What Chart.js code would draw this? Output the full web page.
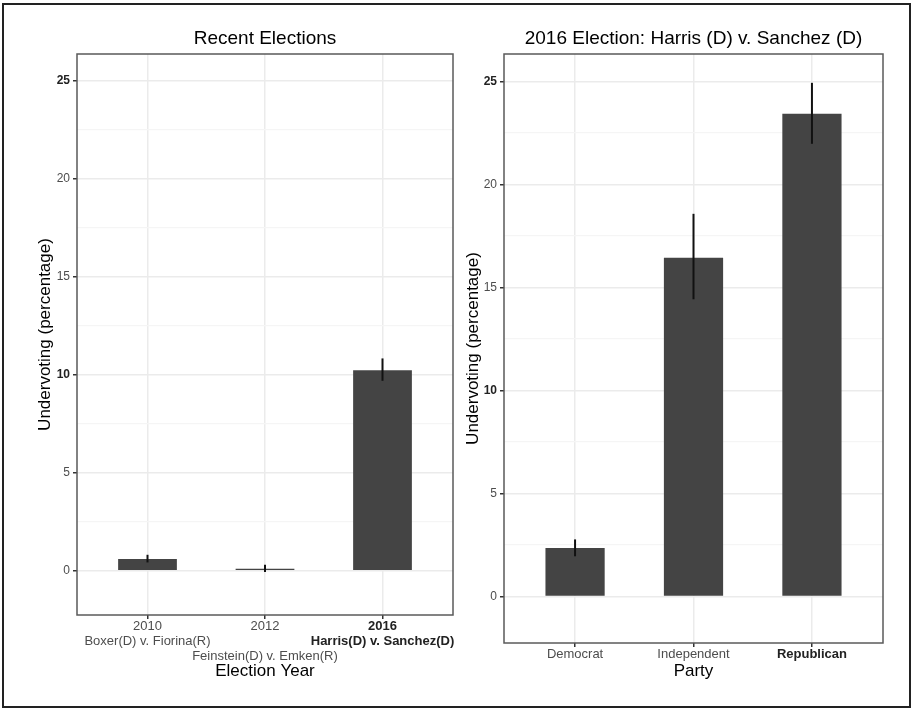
<!DOCTYPE html>
<html>
<head>
<meta charset="utf-8">
<script src="https://cdn.jsdelivr.net/npm/chart.js@4.4.1/dist/chart.umd.min.js"></script>
<style>
  body { margin: 0; background: #fff; }
  #frame { position: absolute; left: 2px; top: 3px; width: 909px; height: 705px; border: 2px solid #222; box-sizing: border-box; }
  canvas { position: absolute; top: 0; }
</style>
</head>
<body>
<div id="frame"></div>
<canvas id="left" width="460" height="708" style="left:0"></canvas>
<canvas id="right" width="457" height="708" style="left:456px"></canvas>
<script>
const leftLabels = [
  ['2010', 'Boxer(D) v. Fiorina(R)'],
  ['2012', '', 'Feinstein(D) v. Emken(R)'],
  ['2016', 'Harris(D) v. Sanchez(D)'],
];
const leftValues = [0.6, 0.1, 10.22];
const leftLow = [0.42, -0.07, 9.68];
const leftHigh = [0.81, 0.3, 10.82];

const rightLabels = ['Democrat', 'Independent', 'Republican'];
const rightValues = [2.35, 16.45, 23.44];
const rightLow = [1.95, 14.43, 21.98];
const rightHigh = [2.77, 18.58, 24.94];

const xPositions = [1, 2, 3];
const yGrid = [0, 2.5, 5, 7.5, 10, 12.5, 15, 17.5, 20, 22.5, 25];
const yBold = [10, 25];
const yMin = -2.26;
const yMax = 26.34;

const FONT = '"Liberation Sans", Arial, sans-serif';

function tickValue(c) {
  return c && c.tick ? c.tick.value : 0;
}

function isMajor(v) {
  return Math.abs(v % 5) < 1e-6;
}

function panelPlugin(low, high) {
  return {
    id: 'panel',
    afterDatasetsDraw(chart) {
      const {ctx, scales: {x, y}} = chart;
      ctx.save();
      ctx.strokeStyle = '#111';
      ctx.lineWidth = 2;
      xPositions.forEach((pos, i) => {
        const px = x.getPixelForValue(pos);
        ctx.beginPath();
        ctx.moveTo(px, y.getPixelForValue(low[i]));
        ctx.lineTo(px, y.getPixelForValue(high[i]));
        ctx.stroke();
      });
      ctx.restore();
    },
    afterDraw(chart) {
      const {ctx, chartArea: a} = chart;
      ctx.save();
      ctx.strokeStyle = '#5a5a5a';
      ctx.lineWidth = 1.5;
      ctx.strokeRect(a.left, a.top, a.right - a.left, a.bottom - a.top);
      ctx.restore();
    },
  };
}

function makeConfig(opts) {
  const {title, xTitle, labels, values, low, high, boldIndex, yWidth, xHeight, rightPad, yTitlePad} = opts;
  const isBoldX = c => c && c.tick && c.tick.value === xPositions[boldIndex];
  return {
    type: 'bar',
    data: {
      datasets: [{
        data: xPositions.map((x, i) => ({x, y: values[i]})),
        backgroundColor: '#444',
        borderWidth: 0,
        barPercentage: 0.5,
        categoryPercentage: 1,
      }],
    },
    options: {
      responsive: false,
      animation: false,
      layout: {padding: {left: 0, right: rightPad, top: 0, bottom: 0}},
      plugins: {
        legend: {display: false},
        tooltip: {enabled: false},
        title: {
          display: true,
          text: title,
          fullSize: false,
          color: '#000',
          font: {family: FONT, size: 19, weight: 'normal', lineHeight: 1.2},
          padding: {top: 27, bottom: 4.2},
        },
      },
      scales: {
        x: {
          type: 'linear',
          min: 0.4,
          max: 3.6,
          offset: false,
          afterBuildTicks: scale => { scale.ticks = xPositions.map(v => ({value: v})); },
          afterFit: scale => { scale.height = xHeight; },
          border: {display: false},
          grid: {offset: false, color: '#EBEBEB', lineWidth: 1.5, tickColor: '#333', tickLength: 4},
          ticks: {
            autoSkip: false,
            maxRotation: 0,
            padding: 0,
            callback: value => labels[value - 1],
            color: c => (isBoldX(c) ? '#222' : '#4D4D4D'),
            font: c => ({family: FONT, size: 13, lineHeight: 1.15, weight: isBoldX(c) ? 'bold' : 'normal'}),
          },
          title: {
            display: true,
            text: xTitle,
            color: '#000',
            font: {family: FONT, size: 17, lineHeight: 1.2},
            padding: {top: 0, bottom: 26},
          },
        },
        y: {
          min: yMin,
          max: yMax,
          afterBuildTicks: scale => { scale.ticks = yGrid.map(v => ({value: v})); },
          afterFit: scale => { scale.width = yWidth; },
          border: {display: false},
          grid: {
            color: c => (isMajor(tickValue(c)) ? '#EBEBEB' : '#F5F5F5'),
            lineWidth: c => (isMajor(tickValue(c)) ? 1.5 : 1.2),
            tickColor: c => (isMajor(tickValue(c)) ? '#333' : 'rgba(0,0,0,0)'),
            tickLength: 4,
          },
          ticks: {
            padding: 3,
            callback: value => (isMajor(value) ? String(value) : ''),
            color: c => (yBold.includes(tickValue(c)) ? '#222' : '#4D4D4D'),
            font: c => ({family: FONT, size: 12, weight: yBold.includes(tickValue(c)) ? 'bold' : 'normal'}),
          },
          title: {
            display: true,
            text: 'Undervoting (percentage)',
            color: '#000',
            font: {family: FONT, size: 17, lineHeight: 1.2},
            padding: {top: yTitlePad, bottom: 0},
          },
        },
      },
    },
    plugins: [panelPlugin(low, high)],
  };
}

document.addEventListener('DOMContentLoaded', () => {
  new Chart(document.getElementById('left').getContext('2d'), makeConfig({
    title: 'Recent Elections',
    xTitle: 'Election Year',
    labels: leftLabels,
    values: leftValues,
    low: leftLow,
    high: leftHigh,
    boldIndex: 2,
    yWidth: 77,
    xHeight: 93,
    rightPad: 7,
    yTitlePad: 35,
  }));

  new Chart(document.getElementById('right').getContext('2d'), makeConfig({
    title: '2016 Election: Harris (D) v. Sanchez (D)',
    xTitle: 'Party',
    labels: rightLabels,
    values: rightValues,
    low: rightLow,
    high: rightHigh,
    boldIndex: 2,
    yWidth: 48,
    xHeight: 65,
    rightPad: 30,
    yTitlePad: 7,
  }));
});
</script>
</body>
</html>
